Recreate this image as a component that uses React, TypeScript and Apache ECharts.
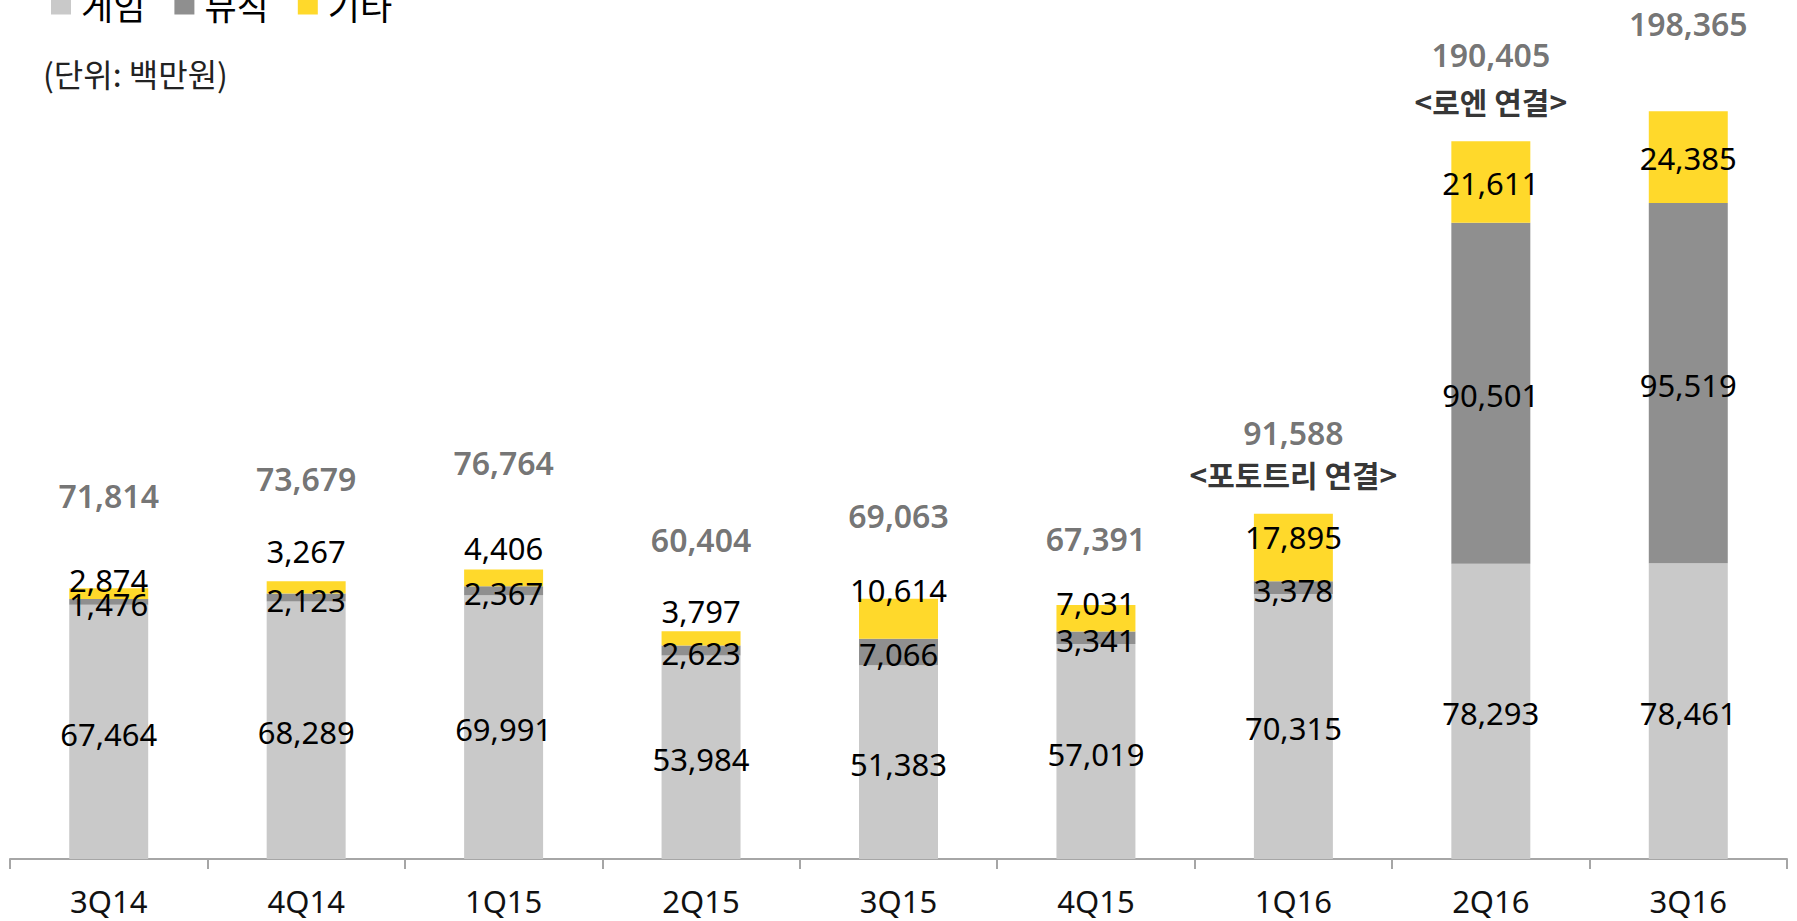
import React, { useEffect, useRef } from "react";
import * as echarts from "echarts";

const categories = ["3Q14", "4Q14", "1Q15", "2Q15", "3Q15", "4Q15", "1Q16", "2Q16", "3Q16"];
const game = [67464, 68289, 69991, 53984, 51383, 57019, 70315, 78293, 78461];
const music = [1476, 2123, 2367, 2623, 7066, 3341, 3378, 90501, 95519];
const etc = [2874, 3267, 4406, 3797, 10614, 7031, 17895, 21611, 24385];
const notes = ["", "", "", "", "", "", "<포토트리 연결>", "<로엔 연결>", ""];
const seriesNames = ["게임", "뮤직", "기타"];
const unitText = "(단위: 백만원)";

// label nudges (px) to follow the reference's manual label placement
const etcLabelShift = [-14, -36, -30, -27, -29, -15, -10, 1, 1];
const totalLabelLift = [93, 103, 107, 92, 83, 66, 81, 87, 88];

const totals = categories.map((_, i) => game[i] + music[i] + etc[i]);
const fmt = (v: number) => v.toLocaleString("en-US");

const FONT = "'Noto Sans', 'Noto Sans CJK KR', sans-serif";
const KFONT = "'Noto Sans CJK KR', 'Noto Sans', sans-serif";

export default function App() {
  const ref = useRef<HTMLDivElement>(null);
  useEffect(() => {
    document.body.style.margin = "0";
    document.body.style.overflow = "hidden";
    const chart = echarts.init(ref.current!, null, { renderer: "svg" });
    const segLabel = {
      show: true,
      position: "inside" as const,
      fontSize: 31,
      fontFamily: FONT,
      color: "#000",
      offset: [0, 2],
      formatter: (p: any) => fmt(p.value),
    };
    chart.setOption({
      animation: false,
      legend: {
        data: seriesNames,
        left: 51,
        top: -13,
        padding: 0,
        icon: "rect",
        itemWidth: 20,
        itemHeight: 20,
        itemGap: 29,
        textStyle: { fontSize: 35, color: "#000", fontFamily: KFONT, padding: [0, 0, 0, 5] },
      },
      graphic: [
        {
          type: "text",
          x: 43,
          y: 73,
          style: {
            text: unitText,
            fontSize: 32,
            fontFamily: KFONT,
            fill: "#222",
            verticalAlign: "middle",
          },
        },
      ],
      grid: { left: 10, right: 10, top: 105, bottom: 62, containLabel: false },
      xAxis: {
        type: "category",
        data: categories,
        axisLine: { lineStyle: { color: "#a6a6a6", width: 2 } },
        axisTick: { show: true, length: 10, lineStyle: { color: "#a6a6a6", width: 2 } },
        axisLabel: { fontSize: 31, color: "#111", fontFamily: FONT, margin: 26 },
      },
      yAxis: { type: "value", min: 0, max: 200000, show: false, splitLine: { show: false } },
      series: [
        {
          name: seriesNames[0],
          type: "bar",
          stack: "a",
          barWidth: "40%",
          data: game,
          itemStyle: { color: "#c9c9c9" },
          label: segLabel,
        },
        {
          name: seriesNames[1],
          type: "bar",
          stack: "a",
          data: music,
          itemStyle: { color: "#8f8f8f" },
          label: segLabel,
        },
        {
          name: seriesNames[2],
          type: "bar",
          stack: "a",
          data: etc.map((v, i) => ({ value: v, label: { offset: [0, etcLabelShift[i]] } })),
          itemStyle: { color: "#ffd92b" },
          label: segLabel,
        },
        {
          name: "합계",
          type: "scatter",
          symbolSize: 0.1,
          itemStyle: { color: "transparent" },
          z: 5,
          data: totals.map((v, i) => ({
            value: v,
            label: { offset: [0, -totalLabelLift[i]] },
          })),
          label: {
            show: true,
            position: "inside",
            fontSize: 32,
            fontWeight: 600,
            fontFamily: FONT,
            color: "#505050",
            formatter: (p: any) => fmt(p.value),
          },
        },
        {
          name: "주석",
          type: "scatter",
          symbolSize: 0.1,
          itemStyle: { color: "transparent" },
          z: 5,
          data: totals.map((v, i) => (notes[i] ? v : "-")),
          label: {
            show: true,
            position: "inside",
            offset: [0, -40],
            fontSize: 30,
            fontWeight: "bold",
            fontFamily: KFONT,
            color: "#000",
            formatter: (p: any) => notes[p.dataIndex],
          },
        },
      ],
    });
    return () => chart.dispose();
  }, []);
  return <div ref={ref} style={{ width: 1797, height: 921 }} />;
}
